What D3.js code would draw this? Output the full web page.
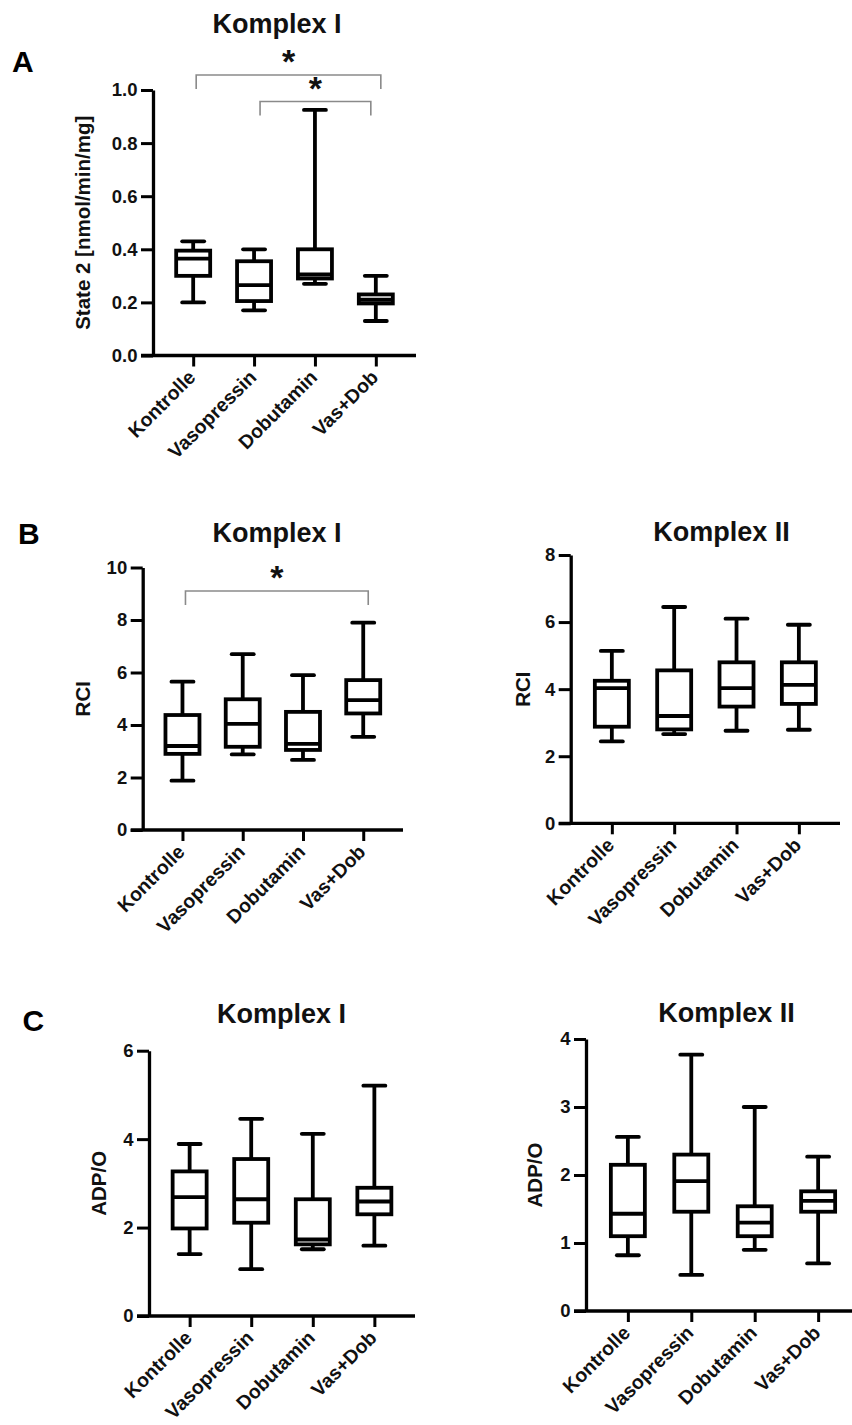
<!DOCTYPE html>
<html>
<head>
<meta charset="utf-8">
<script src="https://cdn.jsdelivr.net/npm/d3@7"></script>
<style>
	body { margin: 0; background: #fff; }
	svg { display: block; }
	text { font-family: 'Liberation Sans', Arial, sans-serif; font-weight: bold; }
</style>
</head>
<body>
<div id="fig"></div>
<script>
let categories = ['Kontrolle', 'Vasopressin', 'Dobutamin', 'Vas+Dob']

// each entry: [whisker low, q1, median, q3, whisker high]
let aState2 = [
	[0.20, 0.30, 0.365, 0.395, 0.43],
	[0.17, 0.205, 0.265, 0.355, 0.40],
	[0.27, 0.29, 0.305, 0.40, 0.925],
	[0.13, 0.196, 0.21, 0.23, 0.30]
]
let bRciK1 = [
	[1.88, 2.9, 3.2, 4.38, 5.65],
	[2.88, 3.17, 4.04, 4.98, 6.7],
	[2.67, 3.05, 3.28, 4.5, 5.9],
	[3.55, 4.44, 4.95, 5.71, 7.9]
]
let bRciK2 = [
	[2.44, 2.88, 4.03, 4.25, 5.14],
	[2.66, 2.8, 3.2, 4.56, 6.45],
	[2.76, 3.48, 4.03, 4.8, 6.1],
	[2.79, 3.56, 4.13, 4.8, 5.92]
]
let cAdpK1 = [
	[1.40, 1.98, 2.69, 3.27, 3.89],
	[1.06, 2.11, 2.64, 3.55, 4.46],
	[1.51, 1.62, 1.73, 2.64, 4.12],
	[1.59, 2.30, 2.59, 2.90, 5.21]
]
let cAdpK2 = [
	[0.82, 1.10, 1.43, 2.15, 2.56],
	[0.53, 1.46, 1.91, 2.30, 3.77],
	[0.90, 1.10, 1.30, 1.54, 3.00],
	[0.70, 1.46, 1.62, 1.76, 2.27]
]

let aTicks = [0, 0.2, 0.4, 0.6, 0.8, 1.0]
let bTicksK1 = [0, 2, 4, 6, 8, 10]
let bTicksK2 = [0, 2, 4, 6, 8]
let cTicksK1 = [0, 2, 4, 6]
let cTicksK2 = [0, 1, 2, 3, 4]

// significance brackets: [from index, to index, level]
let aSig = [[0, 3, 0], [1, 3, 1]]
let bSig = [[0, 3, 0]]

let W = 852
let H = 1425
let strokeW = 3.8
let fontFam = "'Liberation Sans', Arial, sans-serif"

let svg = d3
	.select('#fig')
	.append('svg:svg')
	.attr('width', W)
	.attr('height', H)

let panels = [
	{ label: 'A', lx: 12, ly: 72, title: 'Komplex I', tx: 277, ty: 33, ylab: 'State 2 [nmol/min/mg]', ylx: 83,
		data: aState2, ticks: aTicks, fmt: d3.format('.1f'), ax: 153, y0: 355.5, y1: 90, xEnd: 416, sig: aSig, sigY: 75 },
	{ label: 'B', lx: 18, ly: 544, title: 'Komplex I', tx: 277, ty: 541.5, ylab: 'RCI', ylx: 83,
		data: bRciK1, ticks: bTicksK1, fmt: d3.format('d'), ax: 142.7, y0: 830, y1: 567.5, xEnd: 403, sig: bSig, sigY: 591 },
	{ label: null, title: 'Komplex II', tx: 721.5, ty: 540.5, ylab: 'RCI', ylx: 523,
		data: bRciK2, ticks: bTicksK2, fmt: d3.format('d'), ax: 570.7, y0: 823.3, y1: 555, xEnd: 840, sig: [] },
	{ label: 'C', lx: 22.5, ly: 1031, title: 'Komplex I', tx: 281.5, ty: 1022.5, ylab: 'ADP/O', ylx: 99,
		data: cAdpK1, ticks: cTicksK1, fmt: d3.format('d'), ax: 149, y0: 1316, y1: 1050.7, xEnd: 415, sig: [] },
	{ label: null, title: 'Komplex II', tx: 726.5, ty: 1021.5, ylab: 'ADP/O', ylx: 535,
		data: cAdpK2, ticks: cTicksK2, fmt: d3.format('d'), ax: 586, y0: 1311, y1: 1039, xEnd: 860, sig: [] }
]

let drawPanel = p => {
	let g = svg.append('g')
	let top = p.ticks[p.ticks.length - 1]
	let y = d3.scaleLinear().domain([0, top]).range([p.y0, p.y1])
	let x = d3.scalePoint().domain(categories).range([p.ax, p.xEnd]).padding(0.66)

	if (p.label) {
		svg.append('text')
			.attr('x', p.lx)
			.attr('y', p.ly)
			.attr('font-size', 30)
			.attr('fill', '#000')
			.text(p.label)
	}

	g.append('text')
		.attr('x', p.tx)
		.attr('y', p.ty)
		.attr('text-anchor', 'middle')
		.attr('font-size', 27)
		.attr('fill', '#111')
		.text(p.title)

	g.append('text')
		.attr('transform', `translate(${p.ylx},${(p.y0 + p.y1) / 2}) rotate(-90)`)
		.attr('text-anchor', 'middle')
		.attr('dy', '0.35em')
		.attr('font-size', 20.5)
		.attr('fill', '#111')
		.text(p.ylab)

	// y axis
	let yAxis = g.append('g')
		.attr('transform', `translate(${p.ax},0)`)
		.call(d3.axisLeft(y).tickValues(p.ticks).tickFormat(p.fmt).tickSize(12).tickSizeOuter(0).tickPadding(3.5))
	yAxis.select('.domain').attr('stroke-width', 3.3).attr('stroke', '#000')
	yAxis.selectAll('.tick line').attr('stroke-width', 3).attr('stroke', '#000')
	yAxis.selectAll('.tick text')
		.attr('font-size', 18.5)
		.attr('font-family', fontFam)
		.attr('font-weight', 'bold')
		.attr('fill', '#111')

	// x axis
	let xAxis = g.append('g')
		.attr('transform', `translate(0,${p.y0})`)
		.call(d3.axisBottom(x).tickSize(11).tickSizeOuter(0))
	xAxis.select('.domain').remove()
	xAxis.append('line')
		.attr('x1', p.ax - 12)
		.attr('x2', Math.min(p.xEnd, W))
		.attr('stroke', '#000')
		.attr('stroke-width', 3.3)
	xAxis.selectAll('.tick line').attr('stroke-width', 3).attr('stroke', '#000')
	xAxis.selectAll('.tick text')
		.attr('y', null)
		.attr('dy', null)
		.attr('transform', 'translate(3,23) rotate(-45)')
		.attr('text-anchor', 'end')
		.attr('font-size', 19.5)
		.attr('font-family', fontFam)
		.attr('font-weight', 'bold')
		.attr('fill', '#111')

	// boxes
	let boxes = g.selectAll('.box')
		.data(p.data)
		.enter()
		.append('g')
		.attr('class', 'box')
		.attr('transform', (d, i) => `translate(${x(categories[i])},0)`)

	boxes.append('line')
		.attr('y1', d => y(d[0]))
		.attr('y2', d => y(d[4]))
		.attr('stroke', '#000')
		.attr('stroke-width', strokeW)
	boxes.append('line')
		.attr('x1', -11).attr('x2', 11)
		.attr('y1', d => y(d[4])).attr('y2', d => y(d[4]))
		.attr('stroke', '#000')
		.attr('stroke-width', strokeW)
		.attr('stroke-linecap', 'round')
	boxes.append('line')
		.attr('x1', -11).attr('x2', 11)
		.attr('y1', d => y(d[0])).attr('y2', d => y(d[0]))
		.attr('stroke', '#000')
		.attr('stroke-width', strokeW)
		.attr('stroke-linecap', 'round')
	boxes.append('rect')
		.attr('x', -17)
		.attr('width', 34)
		.attr('y', d => y(d[3]))
		.attr('height', d => y(d[1]) - y(d[3]))
		.attr('fill', '#fff')
		.attr('stroke', '#000')
		.attr('stroke-width', strokeW)
	boxes.append('line')
		.attr('x1', -17).attr('x2', 17)
		.attr('y1', d => y(d[2])).attr('y2', d => y(d[2]))
		.attr('stroke', '#000')
		.attr('stroke-width', strokeW)

	// significance brackets
	p.sig.forEach(s => {
		let xa = x(categories[s[0]]) + (s[2] ? 6 : 3)
		let xb = x(categories[s[1]]) + (s[2] ? -5 : 5)
		let by = p.sigY + s[2] * 26.5
		g.append('path')
			.attr('d', `M${xa},${by + 14}V${by}H${xb}V${by + 14}`)
			.attr('fill', 'none')
			.attr('stroke', '#8a8a8a')
			.attr('stroke-width', 1.6)
		g.append('text')
			.attr('x', (xa + xb) / 2)
			.attr('y', by - 2)
			.attr('text-anchor', 'middle')
			.attr('font-size', 34)
			.attr('fill', '#111')
			.text('*')
	})
}

panels.forEach(drawPanel)
</script>
</body>
</html>
